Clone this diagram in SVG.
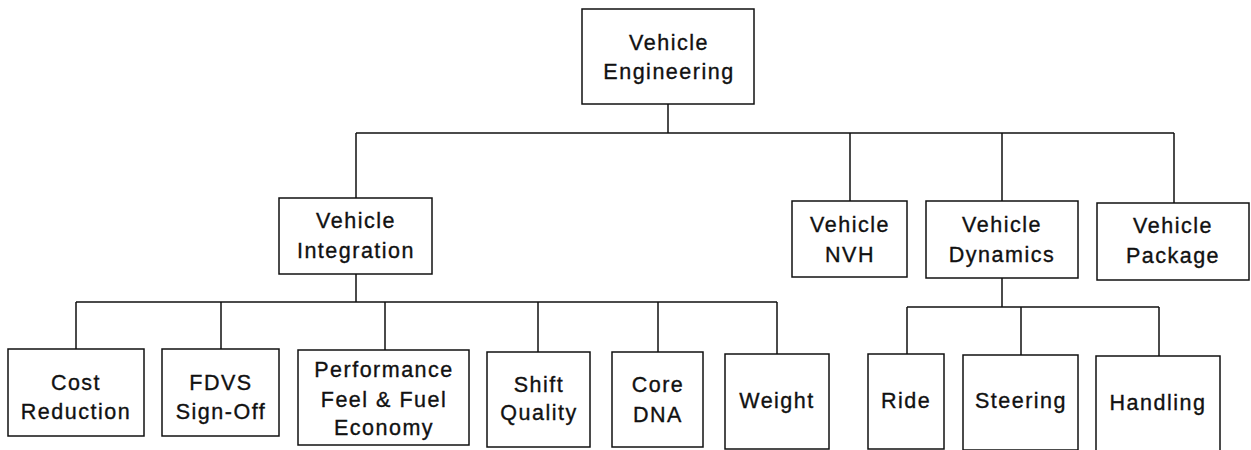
<svg xmlns="http://www.w3.org/2000/svg" width="1251" height="450" viewBox="0 0 1251 450">
  <style>
    .box { fill: #fff; stroke: #111; stroke-width: 1.5; }
    .wire { fill: none; stroke: #111; stroke-width: 1.5; }
    text { font-family: "Liberation Sans", Arial, sans-serif; font-size: 21.5px; fill: #111; stroke: #111; stroke-width: 0.35; text-anchor: middle; letter-spacing: 1.5px; }
  </style>
  <rect width="1251" height="450" fill="#fff"/>

  <!-- org-chart connectors -->
  <g id="connectors">
    <path class="wire" d="M668 104 V133 M356 133 H1174 M356 133 V198 M850 133 V201 M1002 133 V201 M1174 133 V203"/>
    <path class="wire" d="M356 274 V302 M76 302 H777 M76 302 V349 M221 302 V349 M385 302 V350 M538 302 V352 M658 302 V352 M777 302 V354"/>
    <path class="wire" d="M1002 278 V307 M907 307 H1159 M907 307 V354 M1021 307 V355 M1159 307 V356"/>
  </g>

  <!-- top level -->
  <g id="vehicle-engineering">
    <rect class="box" x="582" y="9" width="172" height="95"/>
    <text x="669" y="50">Vehicle</text>
    <text x="669" y="79">Engineering</text>
  </g>

  <!-- second level -->
  <g id="vehicle-integration">
    <rect class="box" x="279" y="198" width="153" height="76"/>
    <text x="356" y="228">Vehicle</text>
    <text x="356" y="258">Integration</text>
  </g>
  <g id="vehicle-nvh">
    <rect class="box" x="792" y="201" width="115" height="76"/>
    <text x="850" y="232">Vehicle</text>
    <text x="850" y="262">NVH</text>
  </g>
  <g id="vehicle-dynamics">
    <rect class="box" x="926" y="201" width="152" height="77"/>
    <text x="1002" y="232">Vehicle</text>
    <text x="1002" y="262">Dynamics</text>
  </g>
  <g id="vehicle-package">
    <rect class="box" x="1097" y="203" width="152" height="77"/>
    <text x="1173" y="233">Vehicle</text>
    <text x="1173" y="263">Package</text>
  </g>

  <!-- integration sub-teams -->
  <g id="cost-reduction">
    <rect class="box" x="8" y="349" width="136" height="87"/>
    <text x="76" y="390">Cost</text>
    <text x="76" y="419">Reduction</text>
  </g>
  <g id="fdvs-sign-off">
    <rect class="box" x="162" y="349" width="117" height="87"/>
    <text x="221" y="390">FDVS</text>
    <text x="221" y="419">Sign-Off</text>
  </g>
  <g id="performance-feel-fuel-economy">
    <rect class="box" x="298" y="350" width="171" height="95"/>
    <text x="384" y="377">Performance</text>
    <text x="384" y="407">Feel &amp; Fuel</text>
    <text x="384" y="435">Economy</text>
  </g>
  <g id="shift-quality">
    <rect class="box" x="487" y="352" width="103" height="95"/>
    <text x="539" y="392">Shift</text>
    <text x="539" y="420">Quality</text>
  </g>
  <g id="core-dna">
    <rect class="box" x="612" y="352" width="91" height="95"/>
    <text x="658" y="392">Core</text>
    <text x="658" y="422">DNA</text>
  </g>
  <g id="weight">
    <rect class="box" x="725" y="354" width="104" height="95"/>
    <text x="777" y="408">Weight</text>
  </g>

  <!-- dynamics sub-teams -->
  <g id="ride">
    <rect class="box" x="868" y="354" width="76" height="95"/>
    <text x="906" y="408">Ride</text>
  </g>
  <g id="steering">
    <rect class="box" x="963" y="355" width="115" height="95"/>
    <text x="1021" y="408">Steering</text>
  </g>
  <g id="handling">
    <rect class="box" x="1096" y="356" width="124" height="95"/>
    <text x="1158" y="410">Handling</text>
  </g>
</svg>
